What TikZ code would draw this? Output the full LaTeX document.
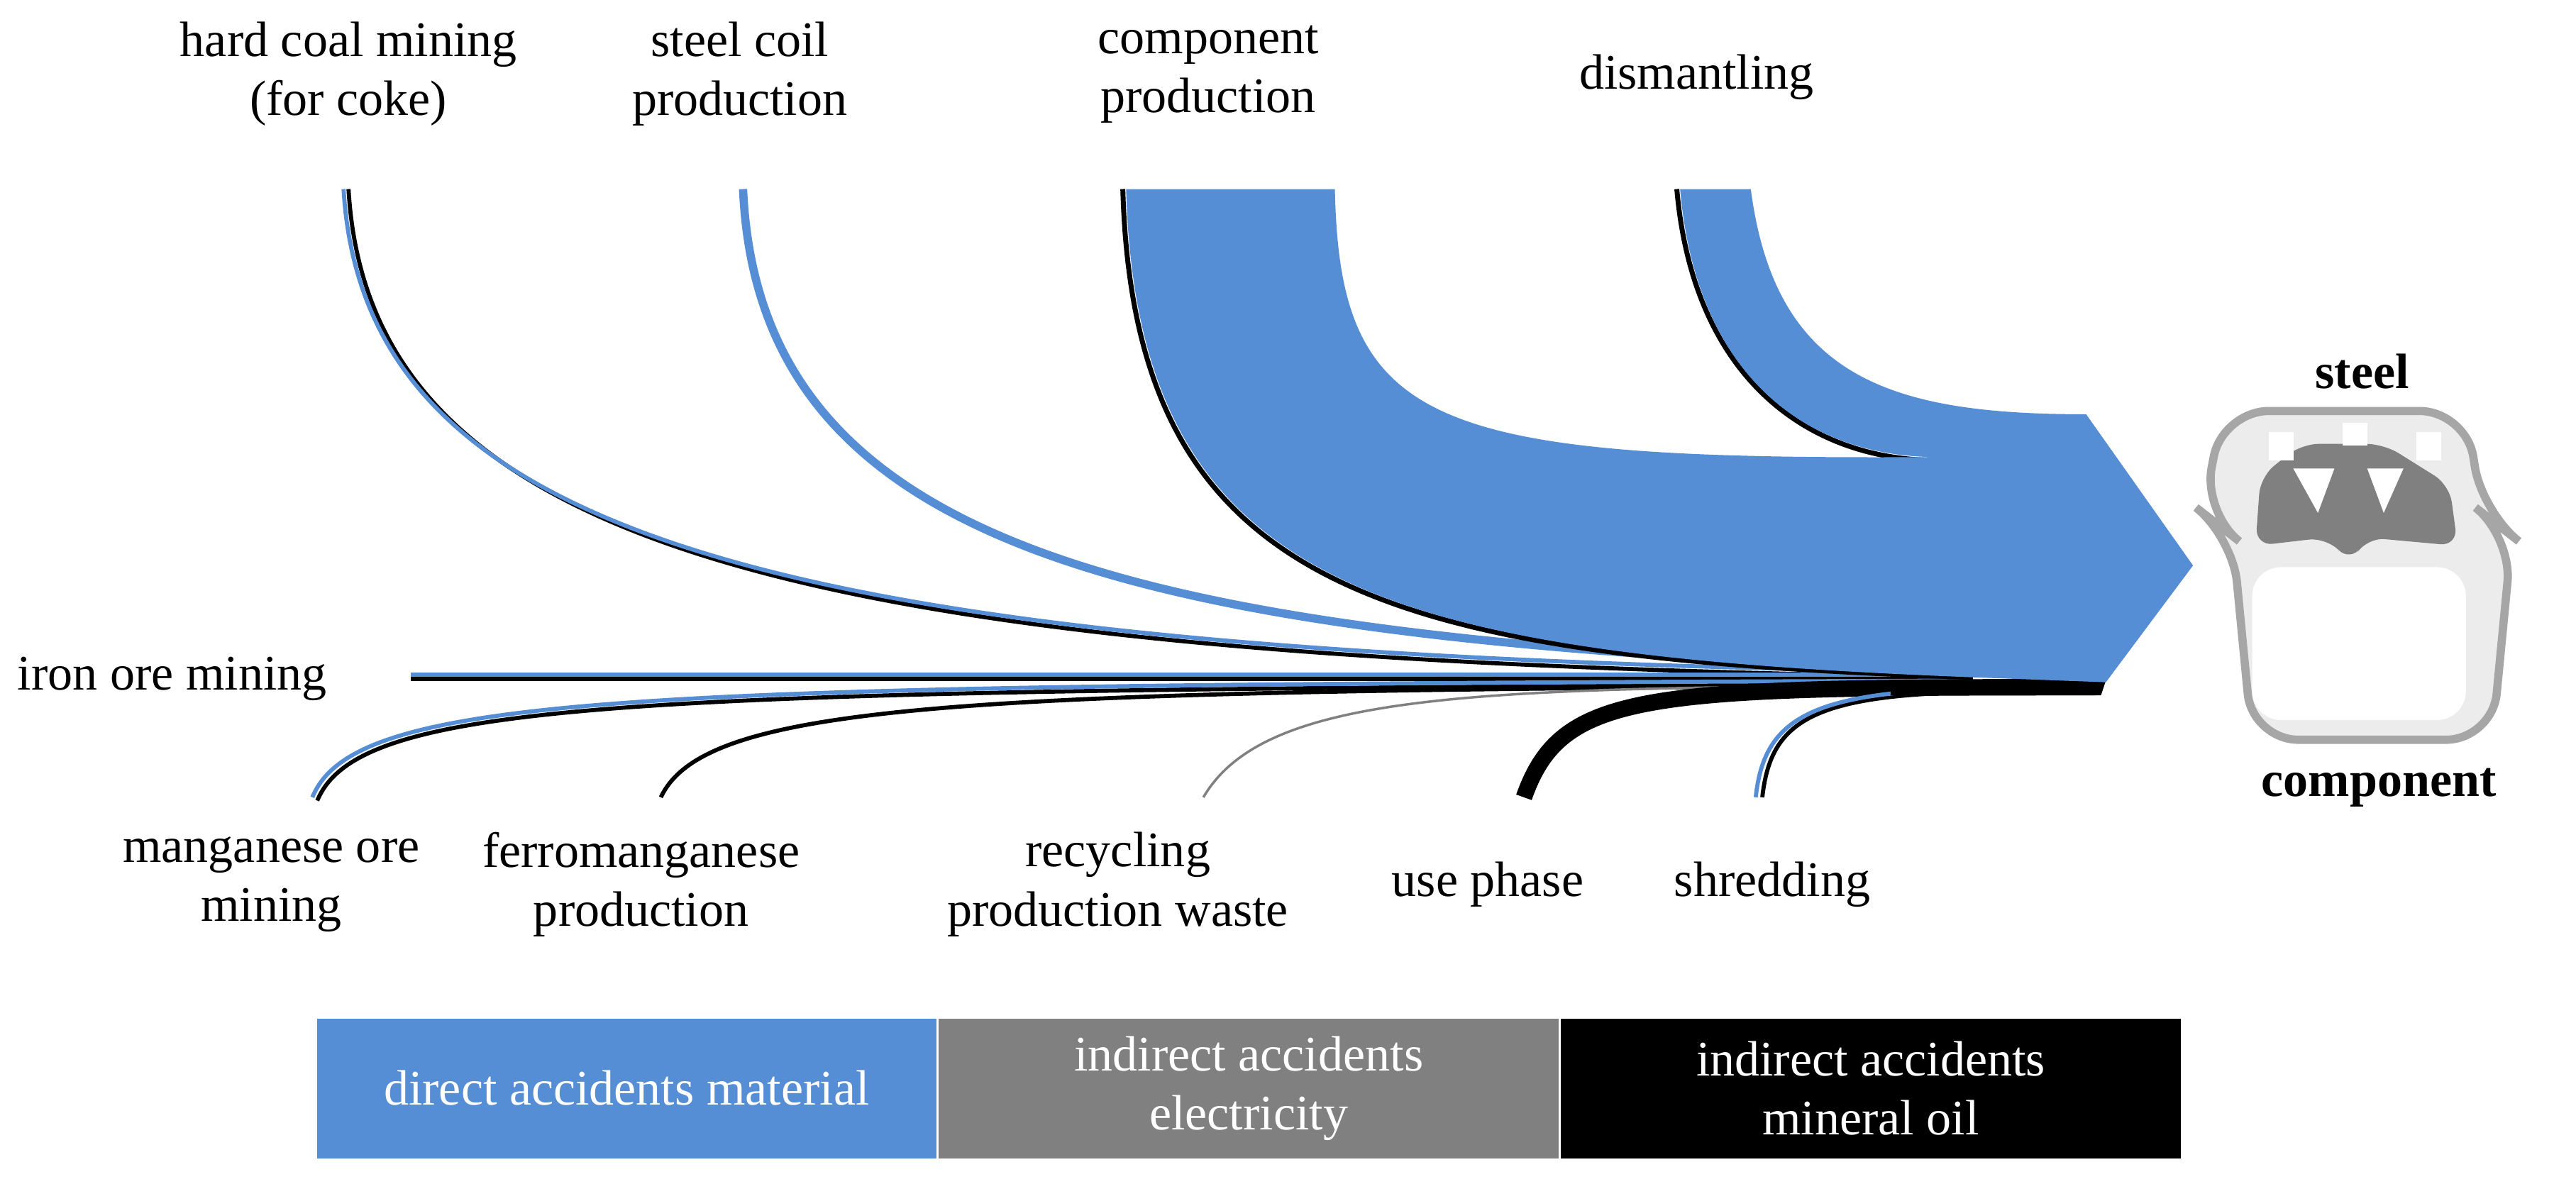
\documentclass[tikz,border=0pt]{standalone}
\usepackage{fontspec}
\setmainfont{Liberation Serif}
\begin{document}
\begin{tikzpicture}[x=0.1mm,y=-0.1mm,
  lab/.style={align=center,font=\fontsize{8.6}{10.2}\selectfont,inner sep=0pt},
  leg/.style={align=center,font=\fontsize{8.6}{10.2}\selectfont,text=white,minimum height=8.5mm,inner sep=0pt,minimum width=37.7mm,anchor=west},
  thin/.style={line width=0.25mm}]
\definecolor{fb}{RGB}{85,142,213}
\definecolor{fg}{RGB}{128,128,128}
\useasboundingbox (0,0) rectangle (1567,723);
% labels
\node[lab] (hc) at (212,45) {hard coal mining\\(for coke)};
\node[lab] (sc) at (450,45) {steel coil\\production};
\node[lab] (cp) at (735,45) {component\\production};
\node[lab] (dm) at (1032,47) {dismantling};
\node[lab,anchor=west] (io) at (10,413) {iron ore mining};
\node[lab] (mo) at (165,538) {manganese ore\\mining};
\node[lab] (fm) at (390,538) {ferromanganese\\production};
\node[lab] (rp) at (680,538) {recycling\\production waste};
\node[lab] (up) at (905,538) {use phase};
\node[lab] (sh) at (1078,538) {shredding};
\node[lab,font=\fontsize{8.6}{10.2}\selectfont\bfseries] (st) at (1437,226) {steel};
\node[lab,font=\fontsize{8.6}{10.2}\selectfont\bfseries] (co) at (1447,479) {component};
% thin flows
\draw[thin,black] (212,115) .. controls (225,340) and (500,402) .. (1200,412);
\draw[thin,fb] (209,115) .. controls (222,338) and (500,399) .. (1200,409);
\draw[line width=0.5mm,fb] (452,115) .. controls (462,340) and (700,390) .. (1200,408);
\draw[thin,black] (250,413) -- (1200,413);
\draw[thin,fb] (250,410.5) -- (1200,410.5);
\draw[thin,black] (193,487) .. controls (220,422) and (400,420) .. (1200,416);
\draw[thin,fb] (190,485) .. controls (217,419) and (400,417) .. (1200,414);
\draw[thin,black] (402,485) .. controls (430,425) and (600,420) .. (1200,417);
\draw[line width=0.15mm,fg] (732,485) .. controls (770,420) and (900,418) .. (1200,417);
\draw[line width=1.0mm,black] (927,485) .. controls (950,420) and (1000,418) .. (1275,418);
\draw[thin,black] (1072,485) .. controls (1077,440) and (1100,423) .. (1200,421);
\draw[thin,fb] (1068,485) .. controls (1073,438) and (1100,421) .. (1200,419);
% main band
\fill[black] (1150,414) -- (1281,414) -- (1278,423) -- (1150,423) -- cycle;
\draw[line width=0.3mm,black] (683,115) .. controls (690,360) and (840,400) .. (1200,412);
\draw[line width=0.3mm,black] (1020,115) .. controls (1030,230) and (1100,280) .. (1178,280);
\fill[fb] (685,115) .. controls (692,358) and (840,398) .. (1200,412) -- (1281,415) -- (1334,344) -- (1269,252)
  .. controls (1150,252) and (1080,230) .. (1065,115) -- (1022,115)
  .. controls (1032,230) and (1100,278) .. (1178,278)
  .. controls (870,280) and (815,260) .. (812,115) -- cycle;
% component picture (simplified)
\begin{scope}[line width=0.5mm,draw=fg!70]
\fill[fg!15,rounded corners=8] (1352,250) -- (1500,250) -- (1510,312) -- (1528,326) -- (1516,450) -- (1370,450) -- (1358,326) -- (1340,312) -- cycle;
\fill[white,rounded corners=5] (1370,345) rectangle (1500,438);
\fill[fg,rounded corners=3] (1375,290) -- (1400,270) -- (1450,270) -- (1490,295) -- (1495,332) -- (1440,327) -- (1430,342) -- (1415,327) -- (1372,332) -- cycle;
\fill[white] (1395,285) -- (1410,312) -- (1420,285) -- cycle;
\fill[white] (1440,285) -- (1450,312) -- (1462,285) -- cycle;
\fill[white] (1380,263) rectangle (1395,280);
\fill[white] (1425,257) rectangle (1440,271);
\fill[white] (1470,263) rectangle (1485,280);
\draw[rounded corners=8] (1352,250) -- (1500,250) -- (1510,312) -- (1528,326) -- (1516,450) -- (1370,450) -- (1358,326) -- (1340,312) -- cycle;
\end{scope}
% legend
\node[leg,fill=fb] (l1) at (192,662) {direct accidents material};
\node[leg,fill=fg] (l2) at (l1.east) {indirect accidents\\electricity};
\node[leg,fill=black] (l3) at (l2.east) {indirect accidents\\mineral oil};
\end{tikzpicture}
\end{document}
